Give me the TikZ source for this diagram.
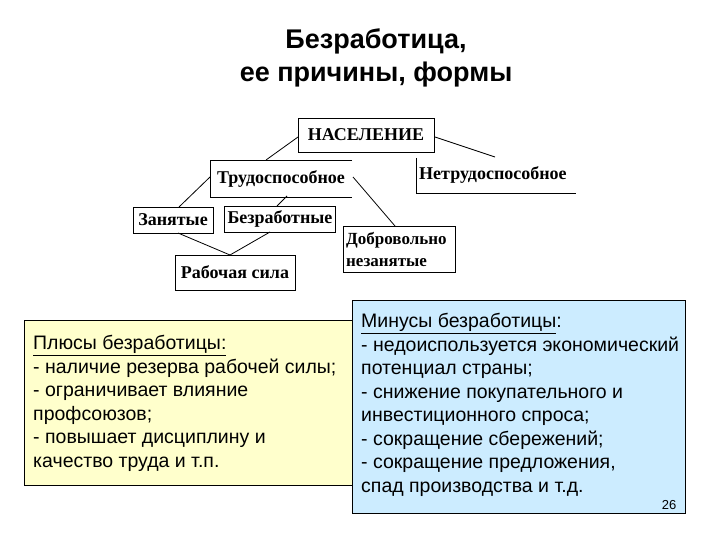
\documentclass[tikz,border=0pt]{standalone}
\usepackage{fontspec}
\setmainfont{Liberation Sans}
\newfontfamily\serifb{Liberation Serif}
\begin{document}
\begin{tikzpicture}[x=1pt,y=-1pt,
  lbl/.style={font=\serifb\bfseries\fontsize{18}{21}\selectfont,inner sep=0pt},
  ln/.style={line width=0.8pt},
  txt/.style={font=\fontsize{19.5}{23.5}\selectfont,align=left,anchor=north west,inner sep=0pt}]
\useasboundingbox (0,0) rectangle (720,540);
\node[font=\bfseries\fontsize{27}{33}\selectfont,align=center] (title) at (376,58) {Безработица,\\ее причины, формы};
% boxes
\draw[ln] (298,118) rectangle (434,152);
\node[lbl] (nas) at (366,135) {НАСЕЛЕНИЕ};
\draw[ln] (352,160) -- (210,160) -- (210,197) -- (352,197);
\node[lbl] (trud) at (281,179) {Трудоспособное};
\draw[ln] (416,158) -- (416,193) -- (576,193);
\node[lbl,anchor=west] (net) at (419,175) {Нетрудоспособное};
\draw[ln] (133,207) rectangle (213,233);
\node[lbl] (zan) at (173,220) {Занятые};
\draw[ln] (224,206) rectangle (335,232);
\node[lbl] (bez) at (280,219) {Безработные};
\draw[ln] (343,226) rectangle (455,272);
\node[lbl,align=left,anchor=west,font=\serifb\bfseries\fontsize{17}{22}\selectfont] (dob) at (346,249) {Добровольно\\незанятые};
\draw[ln] (175,255) rectangle (295,290);
\node[lbl] (rab) at (235,272) {Рабочая сила};
% connectors
\coordinate (a1) at (298,137); \coordinate (a2) at (266,160);
\coordinate (b1) at (435,137); \coordinate (b2) at (495,157);
\coordinate (c1) at (210,177); \coordinate (c2) at (179,207);
\coordinate (d1) at (287,196); \coordinate (d2) at (277,206);
\coordinate (e1) at (353,177); \coordinate (e2) at (395,226);
\coordinate (f1) at (178,233); \coordinate (f2) at (230,255); \coordinate (f3) at (270,232);
\draw[ln] (a1) -- (a2); \draw[ln] (b1) -- (b2); \draw[ln] (c1) -- (c2);
\draw[ln] (d1) -- (d2); \draw[ln] (e1) -- (e2); \draw[ln] (f1) -- (f2) -- (f3);
% bottom boxes
\draw[line width=0.8pt,fill={rgb,255:red,255;green,255;blue,204}] (24,320) rectangle (352,485);
\draw[line width=0.8pt,fill={rgb,255:red,204;green,236;blue,255}] (352,300) rectangle (685,513);
\node[txt] (plus) at (33,335) {\underline{Плюсы безработицы:}\\- наличие резерва рабочей силы;\\- ограничивает влияние\\профсоюзов;\\- повышает дисциплину и\\качество труда и т.п.};
\node[txt] (minus) at (361,313) {\underline{Минусы безработицы}:\\- недоиспользуется экономический\\потенциал страны;\\- снижение покупательного и\\инвестиционного спроса;\\- сокращение сбережений;\\- сокращение предложения,\\спад производства и т.д.};
\node[font=\fontsize{13}{15}\selectfont] (num) at (669,505) {26};
\end{tikzpicture}
\end{document}
